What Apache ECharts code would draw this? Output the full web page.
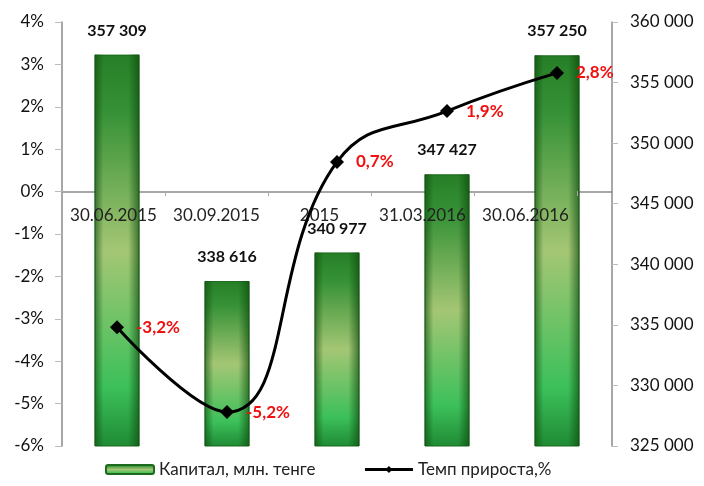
<!DOCTYPE html>
<html>
<head>
    <meta charset="utf-8">
    <title></title>
    <script src="https://cdn.jsdelivr.net/npm/echarts@6/dist/echarts.min.js"></script>
    <style>
        html, body { margin: 0; padding: 0; background: #fff; }
        #main { width: 704px; height: 486px; }
    </style>
</head>
<body>
<div id="main"></div>
<script type="text/javascript">
    var categories = ['30.06.2015', '30.09.2015', '2015', '31.03.2016', '30.06.2016'];
    var capital = [357309, 338616, 340977, 347427, 357250];
    var growth = [-3.2, -5.2, 0.7, 1.9, 2.8];
    var pctTicks = [-6, 4, 1];          // min, max, step
    var capTicks = [325000, 360000, 5000];

    var font = 'Lato';

    function spaced(v) {
        return String(v).replace(/\B(?=(\d{3})+(?!\d))/g, ' ');
    }

    var chart = echarts.init(document.getElementById('main'));

    var barFill = new echarts.graphic.LinearGradient(0, 0, 0, 1, [
        {offset: 0, color: '#267f26'},
        {offset: 0.15, color: '#379237'},
        {offset: 0.5, color: '#a4c674'},
        {offset: 0.85, color: '#3cc05a'},
        {offset: 1, color: '#1f8a34'}
    ]);
    var barShade = new echarts.graphic.LinearGradient(0, 0, 1, 0, [
        {offset: 0, color: 'rgba(10,70,10,0.6)'},
        {offset: 0.2, color: 'rgba(10,70,10,0)'},
        {offset: 0.75, color: 'rgba(10,70,10,0)'},
        {offset: 1, color: 'rgba(10,70,10,0.65)'}
    ]);

    var option = {
        backgroundColor: '#fff',
        textStyle: {fontFamily: font},
        grid: [
            {left: 62, right: 92, top: 22, bottom: 40},
            {left: 62, right: 127, top: 22, bottom: 295}
        ],
        legend: {
            left: 100,
            bottom: 3,
            itemWidth: 48,
            itemHeight: 9,
            itemGap: 48,
            data: [
                {name: 'Капитал, млн. тенге'},
                {name: 'Темп прироста,%', lineStyle: {width: 3}}
            ],
            textStyle: {fontFamily: font, fontSize: 17, color: '#222'}
        },
        xAxis: [
            {
                type: 'category',
                gridIndex: 0,
                data: categories,
                axisLine: {onZero: true, onZeroAxisIndex: 0, lineStyle: {color: '#8a8a8a', width: 1.5}},
                axisTick: {show: false},
                axisLabel: {show: false}
            },
            {
                type: 'category',
                gridIndex: 1,
                data: categories,
                z: 10,
                axisLine: {show: false},
                axisTick: {show: true, length: 5, lineStyle: {color: '#aaa'}},
                axisLabel: {interval: 0, margin: 16, fontFamily: font, fontSize: 17, color: '#222'}
            }
        ],
        yAxis: [
            {
                type: 'value',
                gridIndex: 0,
                position: 'left',
                min: pctTicks[0], max: pctTicks[1], interval: pctTicks[2],
                splitLine: {show: false},
                axisLine: {show: true, lineStyle: {color: '#8a8a8a', width: 1.5}},
                axisTick: {show: true, length: 7, lineStyle: {color: '#bbb'}},
                axisLabel: {formatter: '{value}%', margin: 18, fontFamily: font, fontSize: 17, color: '#111'}
            },
            {
                type: 'value',
                gridIndex: 0,
                position: 'right',
                min: capTicks[0], max: capTicks[1], interval: capTicks[2],
                splitLine: {show: false},
                axisLine: {show: true, lineStyle: {color: '#8a8a8a', width: 1.5}},
                axisTick: {show: true, length: 6, lineStyle: {color: '#bbb'}},
                axisLabel: {formatter: spaced, margin: 18, fontFamily: font, fontSize: 17, color: '#111'}
            },
            {
                type: 'value',
                gridIndex: 1,
                show: false,
                min: 0, max: 1
            }
        ],
        series: [
            {
                name: 'Капитал, млн. тенге',
                type: 'bar',
                xAxisIndex: 0,
                yAxisIndex: 1,
                data: capital,
                barWidth: 45,
                itemStyle: {color: barFill, borderColor: '#1c6a1c', borderWidth: 1},
                label: {
                    show: true,
                    position: 'top',
                    distance: 16,
                    formatter: function (p) { return spaced(p.value); },
                    fontFamily: font,
                    fontWeight: 'bold',
                    fontSize: 16,
                    color: '#111'
                }
            },
            {
                name: 'shade',
                type: 'bar',
                xAxisIndex: 0,
                yAxisIndex: 1,
                data: capital,
                barWidth: 45,
                barGap: '-100%',
                silent: true,
                itemStyle: {color: barShade}
            },
            {
                name: 'Темп прироста,%',
                type: 'line',
                xAxisIndex: 0,
                yAxisIndex: 0,
                data: growth,
                smooth: 0.45,
                symbol: 'diamond',
                symbolSize: 14,
                lineStyle: {color: '#000', width: 3},
                itemStyle: {color: '#000'},
                z: 12,
                label: {
                    show: true,
                    position: 'right',
                    distance: 12,
                    formatter: function (p) { return p.value.toFixed(1).replace('.', ',') + '%'; },
                    fontFamily: font,
                    fontWeight: 'bold',
                    fontSize: 17,
                    color: '#f01010'
                }
            }
        ]
    };
    chart.setOption(option);
</script>
</body>
</html>
